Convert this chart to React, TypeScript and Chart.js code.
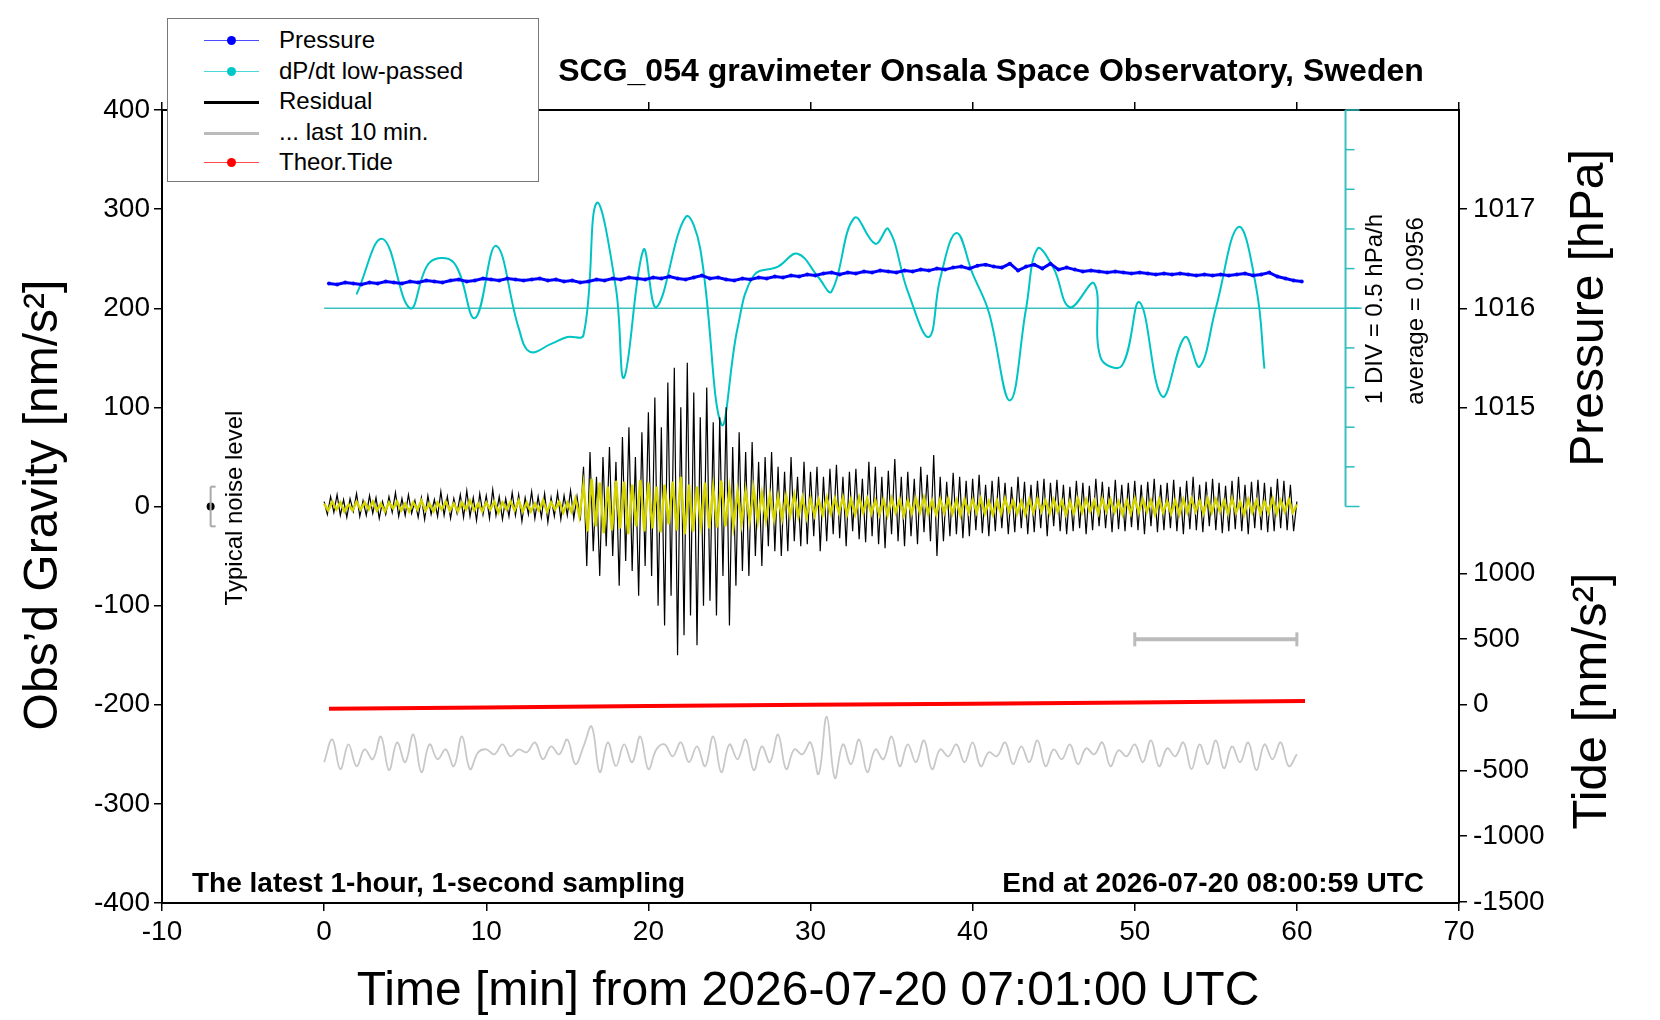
import { useEffect, useRef } from "react";
import { Chart, registerables, type Plugin } from "chart.js";

Chart.register(...registerables);

const FONT = '"Liberation Sans", Arial, sans-serif';

// residual, 0..60 min, step 0.2 min (nm/s^2)
const residual = [
  5, -8, 10, -6, 12, -9, 7, -11, 8, -5,
  13, -10, 6, -9, 11, -7, 9, -12, 5, -8,
  10, -6, 14, -10, 8, -9, 12, -7, 6, -11,
  9, -13, 11, -8, 7, -10, 15, -9, 10, -12,
  8, -7, 12, -11, 16, -10, 9, -14, 13, -8,
  11, -12, 17, -9, 10, -13, 8, -10, 14, -9,
  12, -15, 9, -8, 15, -12, 10, -11, 13, -16,
  9, -10, 14, -13, 11, -9, 16, -12, 10, -14,
  40, -60, 55, -45, 30, -70, 50, -40, 60, -50,
  45, -80, 70, -55, 80, -65, 50, -90, 75, -60,
  95, -70, 110, -100, 80, -120, 125, -90, 140, -150,
  100, -130, 145, -110, 115, -140, 90, -100, 120, -95,
  85, -110, 90, -70, 100, -120, 60, -80, 75, -65,
  55, -70, 65, -50, 45, -60, 50, -40, 55, -45,
  40, -50, 35, -45, 50, -35, 30, -40, 45, -38,
  35, -30, 40, -45, 30, -35, 38, -28, 42, -32,
  30, -40, 35, -25, 38, -33, 28, -36, 45, -30,
  40, -38, 30, -42, 36, -28, 48, -35, 30, -40,
  35, -30, 28, -38, 40, -26, 32, -35, 52, -50,
  30, -35, 25, -30, 34, -28, 30, -32, 26, -30,
  28, -24, 32, -27, 22, -30, 26, -25, 30, -22,
  24, -28, 20, -26, 30, -22, 25, -28, 22, -26,
  26, -22, 28, -30, 24, -20, 27, -25, 22, -28,
  20, -25, 26, -22, 24, -28, 21, -24, 28, -20,
  25, -22, 20, -26, 27, -23, 22, -25, 24, -21,
  26, -24, 22, -28, 25, -20, 28, -26, 22, -24,
  24, -22, 27, -25, 20, -28, 26, -23, 30, -24,
  22, -26, 25, -20, 28, -24, 24, -27, 21, -25,
  26, -23, 30, -25, 22, -28, 25, -22, 27, -24,
  24, -26, 20, -25, 28, -22, 26, -24, 22, -25,
  5
];

// low-passed residual, 0..60 min, step 0.25 min
const filtered = [
  3, -4, 5, -3, 4, -5, 2, -4, 5, -3,
  4, -3, 5, -4, 3, -5, 4, -2, 5, -4,
  3, -5, 4, -3, 6, -4, 3, -5, 4, -3,
  5, -4, 3, -5, 4, -3, 6, -4, 3, -5,
  4, -3, 5, -6, 4, -3, 5, -4, 6, -5,
  4, -5, 3, -4, 6, -5, 4, -3, 5, -6,
  4, -5, 8, -10, 22, -25, 28, -20, 24, -27,
  20, -24, 26, -22, 25, -28, 22, -20, 27, -25,
  24, -22, 20, -26, 22, -18, 25, -24, 30, -28,
  22, -25, 20, -18, 24, -22, 19, -21, 26, -20,
  18, -20, 15, -17, 16, -14, 18, -15, 13, -14,
  12, -13, 10, -12, 11, -9, 12, -10, 9, -11,
  8, -9, 7, -8, 9, -7, 8, -6, 9, -8,
  7, -8, 9, -6, 8, -7, 6, -8, 7, -9,
  8, -6, 7, -9, 6, -7, 8, -6, 9, -7,
  6, -8, 7, -6, 8, -7, 6, -9, 7, -6,
  7, -6, 8, -7, 5, -8, 6, -7, 8, -5,
  6, -7, 5, -8, 7, -6, 8, -5, 6, -7,
  7, -5, 6, -8, 5, -7, 8, -6, 7, -5,
  6, -7, 8, -5, 7, -6, 5, -8, 6, -7,
  8, -6, 7, -5, 6, -8, 7, -6, 5, -7,
  6, -8, 7, -6, 8, -5, 6, -7, 8, -6,
  7, -5, 6, -7, 8, -6, 5, -8, 7, -6,
  6, -7, 5, -6, 8, -7, 6, -5, 7, -6,
  2
];

// "... last 10 min." trace (plotted offset), 0..60 min, step 0.5
const lastTen = [
  -258, -235, -265, -240, -262, -245, -255, -232, -266, -238,
  -258, -230, -268, -240, -255, -245, -262, -232, -265, -248,
  -245, -250, -240, -252, -245, -248, -238, -255, -242, -250,
  -235, -260, -242, -222, -268, -238, -262, -240, -258, -232,
  -265, -245, -240, -252, -238, -258, -242, -262, -232, -268,
  -240, -255, -235, -266, -242, -258, -230, -265, -245, -250,
  -238, -270, -212, -274, -240, -260, -235, -268, -245, -255,
  -232, -262, -240, -258, -236, -265, -245, -252, -240, -258,
  -238, -262, -248, -252, -238, -260, -242, -258, -236, -262,
  -245, -255, -240, -260, -244, -250, -238, -262, -246, -252,
  -240, -258, -236, -262, -244, -252, -238, -265, -240, -260,
  -236, -264, -242, -258, -238, -266, -240, -255, -238, -262,
  -250
];

// pressure [hPa], 0.3..60.3 min, step 0.5
const pressure = [
  1016.25, 1016.24, 1016.26, 1016.25, 1016.24, 1016.26, 1016.25, 1016.27, 1016.26, 1016.25,
  1016.27, 1016.26, 1016.28, 1016.27, 1016.26, 1016.28, 1016.29, 1016.27, 1016.28, 1016.3,
  1016.29, 1016.28, 1016.3, 1016.29, 1016.28, 1016.29, 1016.3, 1016.28, 1016.29, 1016.27,
  1016.28, 1016.26, 1016.27, 1016.29, 1016.28, 1016.3, 1016.29, 1016.31, 1016.3, 1016.29,
  1016.31, 1016.3, 1016.32, 1016.3, 1016.29, 1016.31, 1016.33, 1016.3, 1016.31, 1016.29,
  1016.28, 1016.3, 1016.29, 1016.31, 1016.3, 1016.32, 1016.31, 1016.33, 1016.32, 1016.34,
  1016.33, 1016.35, 1016.36, 1016.34, 1016.36, 1016.35, 1016.37, 1016.36, 1016.38, 1016.37,
  1016.36, 1016.38, 1016.37, 1016.39, 1016.38, 1016.4, 1016.39, 1016.41, 1016.42, 1016.4,
  1016.43, 1016.44, 1016.42, 1016.41, 1016.45, 1016.38, 1016.42, 1016.44, 1016.4, 1016.45,
  1016.39, 1016.41, 1016.39, 1016.37, 1016.38, 1016.37, 1016.36, 1016.37, 1016.36, 1016.35,
  1016.36, 1016.35, 1016.34, 1016.35, 1016.34, 1016.35, 1016.34, 1016.33, 1016.34, 1016.33,
  1016.34, 1016.33, 1016.34, 1016.35, 1016.33, 1016.34, 1016.36, 1016.32, 1016.3, 1016.28,
  1016.27
];

// dP/dt low-passed, plotted value (left-axis units, average at 200)
const dpdtMin = [2, 3.6, 5.3, 6.5, 8, 9.3, 10.6, 12, 12.7, 14, 15, 16, 16.8, 18, 18.5, 19.7, 20.5, 22.3, 23.2, 24.5, 25.5, 26.5, 28, 29.2, 30.5, 31.3, 32.7, 34, 34.8, 36, 37.3, 38, 39, 40, 41, 42.3, 43.3, 44, 45, 46, 47.5, 47.9, 49.2, 50.3, 51.7, 53.1, 54, 55, 56.4, 57.5, 58];
const dpdtVal = [214, 270, 200, 246, 246, 190, 263, 180, 156, 164, 171, 173, 306, 220, 130, 259, 201, 292, 260, 83, 180, 233, 242, 255, 231, 217, 291, 265, 280, 217, 171, 230, 276, 235, 196, 107, 200, 260, 240, 201, 225, 150, 142, 206, 111, 171, 141, 200, 282, 220, 139];

const tideMin = [0.3, 10, 20, 30, 40, 50, 60.5];
const tide = [-30, -20, -10, 0, 8, 18, 28]; // nm/s^2

const pressureTicks = [1015, 1016, 1017];
const tideTicks = [-1500, -1000, -500, 0, 500, 1000];

const pToY = (p: number) => 200 + (p - 1016) * 100;
const tToY = (t: number) => -200 + t * 0.1326;

const texts: Plugin = {
  id: "texts",
  afterDraw(chart) {
    const { ctx } = chart;
    const x = chart.scales.x;
    const y = chart.scales.y;
    ctx.save();
    // dP/dt axis ticks
    ctx.strokeStyle = "#2bbcbc";
    ctx.lineWidth = 1.5;
    for (let v = 0; v <= 400; v += 40) {
      const py = y.getPixelForValue(v);
      const px = x.getPixelForValue(63);
      ctx.beginPath();
      ctx.moveTo(px, py);
      ctx.lineTo(px + (v % 200 === 0 ? 14 : 9), py);
      ctx.stroke();
    }
    ctx.fillStyle = "#000";
    ctx.textAlign = "center";
    ctx.textBaseline = "middle";
    ctx.font = `bold 32px ${FONT}`;
    ctx.fillText("SCG_054 gravimeter Onsala Space Observatory, Sweden", 991, 72);
    ctx.font = `bold 28px ${FONT}`;
    ctx.textAlign = "left";
    ctx.fillText("The latest 1-hour, 1-second sampling", 192, 884);
    ctx.textAlign = "right";
    ctx.fillText("End at 2026-07-20 08:00:59 UTC", 1424, 884);
    ctx.textAlign = "center";
    ctx.font = `48px ${FONT}`;
    ctx.fillText("Time [min] from 2026-07-20 07:01:00 UTC", 808, 992);
    const rot = (t: string, cx: number, cy: number, f: string) => {
      ctx.save();
      ctx.translate(cx, cy);
      ctx.rotate(-Math.PI / 2);
      ctx.font = f;
      ctx.fillText(t, 0, 0);
      ctx.restore();
    };
    rot("Obs\u2019d Gravity [nm/s\u00b2]", 44, 505, `48px ${FONT}`);
    rot("Pressure [hPa]", 1590, 308, `48px ${FONT}`);
    rot("Tide [nm/s\u00b2]", 1592, 701, `49px ${FONT}`);
    rot("Typical noise level", 235, 508, `24px ${FONT}`);
    rot("1 DIV = 0.5 hPa/h", 1375, 309, `24px ${FONT}`);
    rot("average = 0.0956", 1416, 311, `24px ${FONT}`);
    ctx.restore();
  }
};

const legendRows = [
  { label: "Pressure", color: "#0000ff", dot: true, w: 1 },
  { label: "dP/dt low-passed", color: "#00c8c8", dot: true, w: 1 },
  { label: "Residual", color: "#000", dot: false, w: 2.5 },
  { label: "... last 10 min.", color: "#bbb", dot: false, w: 3.5 },
  { label: "Theor.Tide", color: "#ff0000", dot: true, w: 1 }
];

export default function App() {
  const ref = useRef<HTMLCanvasElement | null>(null);
  useEffect(() => {
    if (!ref.current) return;
    const line = (data: { x: number; y: number }[], color: string, width: number, extra: object = {}) => ({
      type: "line" as const,
      data,
      borderColor: color,
      backgroundColor: color,
      borderWidth: width,
      pointRadius: 0,
      tension: 0,
      ...extra
    });
    const chart = new Chart(ref.current, {
      type: "line",
      data: {
        datasets: [
          line(filtered.map((v, i) => ({ x: i * 0.25, y: v })), "#d4d400", 2.5),
          line(residual.map((v, i) => ({ x: i * 0.2, y: v })), "#000", 1.2),
          line(pressure.map((p, i) => ({ x: 0.3 + i * 0.5, y: pToY(p) })), "#0000ff", 3, {
            pointRadius: 2,
            pointBorderWidth: 0
          }),
          line(dpdtMin.map((m, i) => ({ x: m, y: dpdtVal[i] })), "#00c4c4", 2, { tension: 0.4 }),
          line([{ x: 0, y: 200 }, { x: 64, y: 200 }], "#3cc0c0", 1.5),
          line([{ x: 63, y: 0 }, { x: 63, y: 400 }], "#3cc0c0", 2),
          line(tideMin.map((m, i) => ({ x: m, y: tToY(tide[i]) })), "#ff0000", 4),
          line(lastTen.map((v, i) => ({ x: i * 0.5, y: v })), "#c8c8c8", 1.8, { tension: 0.4 }),
          line([{ x: 50, y: -134 }, { x: 60, y: -134 }], "#bbb", 4, {
            pointRadius: 7,
            pointStyle: "line",
            pointRotation: 90,
            pointBorderWidth: 3
          }),
          line([{ x: -7, y: -20 }, { x: -7, y: 20 }], "#aaa", 2, {
            pointRadius: 5,
            pointStyle: "dash",
            pointBorderWidth: 2
          }),
          line([{ x: -7, y: 0 }], "#000", 0, { pointRadius: 4 })
        ]
      },
      options: {
        animation: false,
        responsive: false,
        layout: { padding: 0 },
        plugins: { legend: { display: false }, tooltip: { enabled: false } },
        scales: {
          x: {
            type: "linear",
            position: "bottom",
            min: -10,
            max: 70,
            afterFit: (s) => { s.height = 117; },
            ticks: { stepSize: 10, color: "#000", font: { family: FONT, size: 28 }, padding: 4 },
            grid: { drawOnChartArea: false, tickLength: 8, color: "#000", lineWidth: 1.5 },
            border: { color: "#000", width: 2 }
          },
          xTop: {
            type: "linear",
            position: "top",
            min: -10,
            max: 70,
            afterFit: (s) => { s.height = 110; },
            ticks: { stepSize: 10, display: false },
            grid: { drawOnChartArea: false, tickLength: 8, color: "#000", lineWidth: 1.5 },
            border: { color: "#000", width: 2 }
          },
          y: {
            position: "left",
            min: -400,
            max: 400,
            afterFit: (s) => { s.width = 162; },
            ticks: { stepSize: 100, color: "#000", font: { family: FONT, size: 28 }, padding: 4 },
            grid: { drawOnChartArea: false, tickLength: 8, color: "#000", lineWidth: 1.5 },
            border: { color: "#000", width: 2 }
          },
          yR: {
            position: "right",
            min: -400,
            max: 400,
            afterFit: (s) => { s.width = 201; },
            afterBuildTicks: (s) => {
              s.ticks = [
                ...pressureTicks.map((p) => ({ value: pToY(p), label: String(p) })),
                ...tideTicks.map((t) => ({ value: tToY(t), label: String(t) }))
              ];
            },
            ticks: {
              color: "#000",
              font: { family: FONT, size: 28 },
              padding: 6,
              callback: (v) => {
                const n = Number(v);
                if (n > 50) return String(Math.round(1016 + (n - 200) / 100));
                return String(Math.round((n + 200) / 0.1326 / 500) * 500);
              }
            },
            grid: { drawOnChartArea: false, tickLength: 8, color: "#000", lineWidth: 1.5 },
            border: { color: "#000", width: 2 }
          }
        }
      },
      plugins: [texts]
    });
    return () => chart.destroy();
  }, []);

  return (
    <div style={{ position: "absolute", left: 0, top: 0, width: 1660, height: 1020, background: "#fff" }}>
      <canvas ref={ref} width={1660} height={1020} style={{ position: "absolute", left: 0, top: 0 }} />
      <div
        style={{
          position: "absolute",
          left: 167,
          top: 18,
          width: 370,
          height: 162,
          border: "1px solid #777",
          background: "#fff",
          fontFamily: FONT,
          fontSize: 24
        }}
      >
        {legendRows.map((r, i) => (
          <div key={r.label} style={{ position: "absolute", top: 10 + i * 30.5, left: 0, height: 24, width: 360 }}>
            <div style={{ position: "absolute", left: 36, top: 11, width: 55, height: r.w, background: r.color, opacity: r.dot ? 0.7 : 1 }} />
            {r.dot && (
              <div style={{ position: "absolute", left: 59, top: 7, width: 9, height: 9, borderRadius: 5, background: r.color }} />
            )}
            <div style={{ position: "absolute", left: 111, top: -3, whiteSpace: "nowrap" }}>{r.label}</div>
          </div>
        ))}
      </div>
    </div>
  );
}
